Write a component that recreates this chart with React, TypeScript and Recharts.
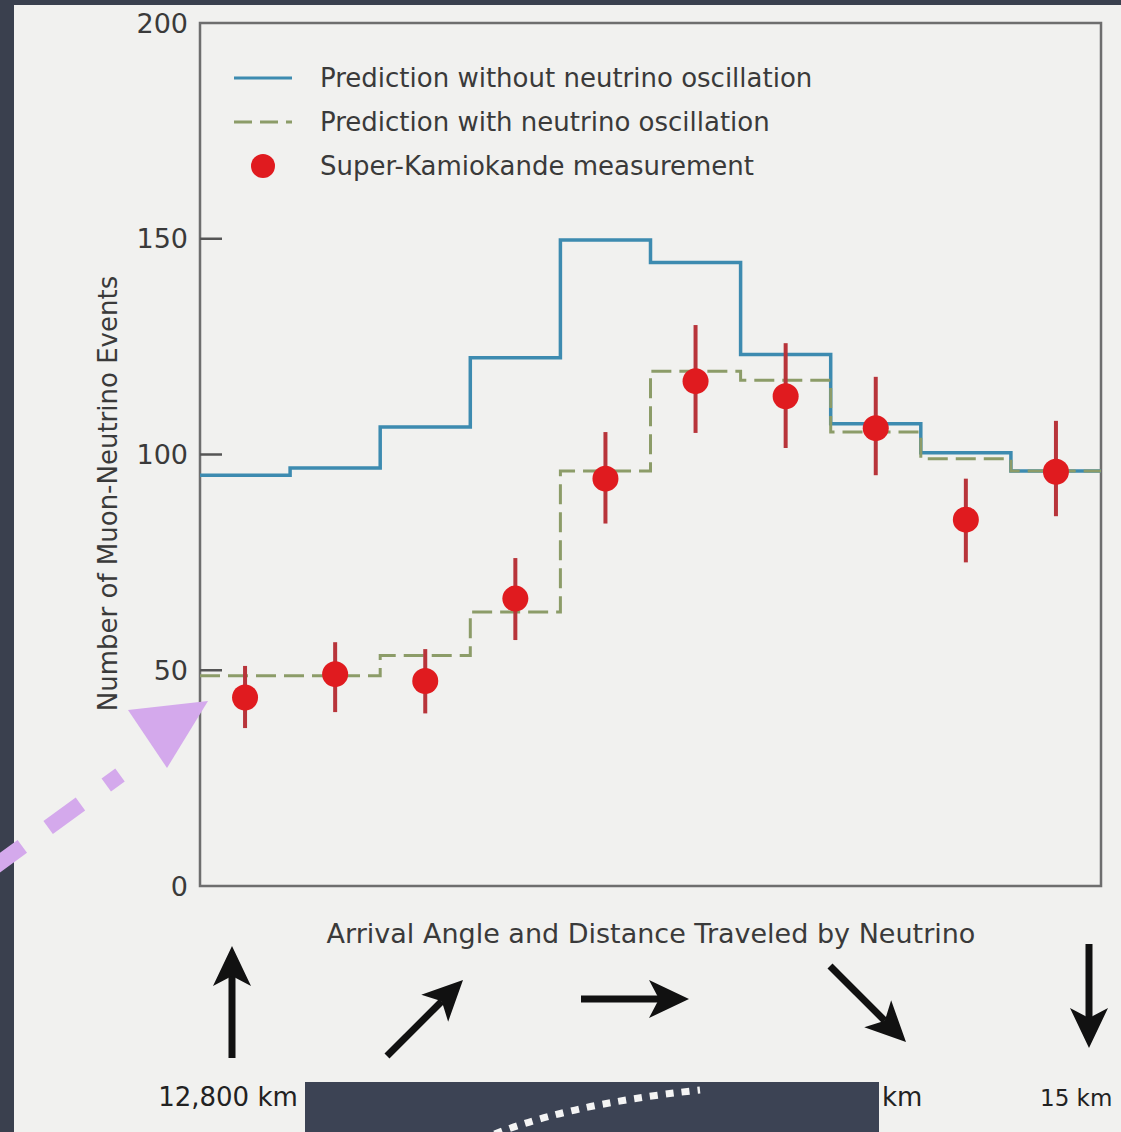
import React from "react";
import { ComposedChart, Line, Scatter, ErrorBar, XAxis, YAxis, ReferenceArea, Legend, Label } from "recharts";

// bin edges along the arrival-angle axis (10 bins)
const binEdges = [0, 1, 2, 3, 4, 5, 6, 7, 8, 9, 10];
const withoutOscillation = [95.2, 96.9, 106.4, 122.4, 149.7, 144.5, 123.2, 107.1, 100.4, 96.2];
const withOscillation = [48.7, 48.7, 53.4, 63.5, 96.2, 119.3, 117.2, 105.2, 99.0, 96.2];
const measured = [43.7, 49.1, 47.5, 66.6, 94.4, 117.0, 113.5, 106.1, 84.9, 96.0];
const errorLow = [7.1, 8.8, 7.5, 9.6, 10.4, 12.0, 12.0, 10.9, 9.9, 10.3];
const errorHigh = [7.3, 7.4, 7.4, 9.4, 10.8, 13.0, 12.3, 11.9, 9.5, 11.8];
const yTicks = [0, 50, 100, 150, 200];
const distanceLabels = ["12,800 km", "km", "15 km"];
const seriesNames = [
  "Prediction without neutrino oscillation",
  "Prediction with neutrino oscillation",
  "Super-Kamiokande measurement",
];

const FONT = '"DejaVu Sans", sans-serif';
const TEXT = "#3a3a3a";
const BLUE = "#3d8bb0";
const GREEN = "#8c9c68";
const RED = "#e01b1f";
const ERR = "#b8343a";

const stepData = (values: number[]) =>
  binEdges.map((x, i) => ({ x, y: values[Math.min(i, values.length - 1)] }));

const pointData = measured.map((y, i) => ({
  x: i + 0.5,
  y,
  err: [errorLow[i], errorHigh[i]],
}));

const TICK_MARGIN = 12;

const YTick = (props: any) => {
  const { x, y, payload } = props;
  const v = payload.value;
  return (
    <g>
      <text x={x} y={y} textAnchor="end" dominantBaseline="central" fill={TEXT} fontSize={27} fontFamily={FONT}>
        {v}
      </text>
      {v > 0 && v < 200 && (
        <line x1={x + TICK_MARGIN} x2={x + TICK_MARGIN + 22} y1={y} y2={y} stroke="#555" strokeWidth={2.5} />
      )}
    </g>
  );
};

const renderLegend = (props: any) => {
  const payload = [...(props.payload || [])].sort(
    (a: any, b: any) => seriesNames.indexOf(a.value) - seriesNames.indexOf(b.value)
  );
  return (
    <div style={{ display: "flex", flexDirection: "column" }}>
      {payload.map((entry: any) => (
        <div key={entry.value} style={{ display: "flex", alignItems: "center", height: 44 }}>
          <svg width={60} height={28} style={{ marginRight: 28 }}>
            {entry.type === "circle" ? (
              <circle cx={31} cy={14} r={12} fill={RED} />
            ) : (
              <line
                x1={2}
                x2={60}
                y1={14}
                y2={14}
                stroke={entry.color}
                strokeWidth={3}
                strokeDasharray={entry.type === "plainline" ? "18 8" : undefined}
              />
            )}
          </svg>
          <span style={{ fontFamily: FONT, fontSize: 26, color: TEXT, whiteSpace: "nowrap" }}>{entry.value}</span>
        </div>
      ))}
    </div>
  );
};

const Arrow = ({ x1, y1, x2, y2 }: { x1: number; y1: number; x2: number; y2: number }) => {
  const a = Math.atan2(y2 - y1, x2 - x1);
  const L = 40;
  const W = 19;
  const bx = x2 - L * Math.cos(a);
  const by = y2 - L * Math.sin(a);
  const px = -Math.sin(a) * W;
  const py = Math.cos(a) * W;
  const nx = x2 - (L - 10) * Math.cos(a);
  const ny = y2 - (L - 10) * Math.sin(a);
  return (
    <g>
      <line x1={x1} y1={y1} x2={nx} y2={ny} stroke="#111" strokeWidth={7} />
      <polygon points={`${x2},${y2} ${bx + px},${by + py} ${nx},${ny} ${bx - px},${by - py}`} fill="#111" />
    </g>
  );
};

export default function App() {
  return (
    <div style={{ position: "absolute", left: 0, top: 0, width: 1121, height: 1132, background: "#3a404e", overflow: "hidden" }}>
      <div style={{ position: "absolute", left: 14, top: 5, right: 0, bottom: 0, background: "#f1f1ef" }} />
      <div style={{ position: "absolute", left: 0, top: 0 }}>
        <ComposedChart width={1121} height={1132} margin={{ top: 23, right: 20, bottom: 246, left: 140 }}>
          <XAxis dataKey="x" type="number" domain={[0, 10]} hide />
          <YAxis
            type="number"
            domain={[0, 200]}
            ticks={yTicks}
            width={60}
            axisLine={false}
            tickLine={false}
            tickSize={0}
            tickMargin={TICK_MARGIN}
            tick={YTick}
          >
            <Label
              content={(p: any) => {
                const vb = p.viewBox || { x: 140, y: 23, height: 863 };
                const cx = 108;
                const cy = vb.y + vb.height / 2 + 39;
                return (
                  <text
                    x={cx}
                    y={cy}
                    transform={`rotate(-90, ${cx}, ${cy})`}
                    textAnchor="middle"
                    dominantBaseline="central"
                    fill={TEXT}
                    fontSize={26}
                    fontFamily={FONT}
                  >
                    Number of Muon-Neutrino Events
                  </text>
                );
              }}
            />
          </YAxis>
          <ReferenceArea x1={0} x2={10} y1={0} y2={200} fill="none" stroke="#6e6e6e" strokeWidth={2.5} ifOverflow="visible" />
          <Line
            name={seriesNames[0]}
            data={stepData(withoutOscillation)}
            dataKey="y"
            type="stepAfter"
            stroke={BLUE}
            strokeWidth={3.5}
            dot={false}
            legendType="line"
            isAnimationActive={false}
          />
          <Line
            name={seriesNames[1]}
            data={stepData(withOscillation)}
            dataKey="y"
            type="stepAfter"
            stroke={GREEN}
            strokeWidth={3}
            strokeDasharray="20 8"
            dot={false}
            legendType="plainline"
            isAnimationActive={false}
          />
          <Scatter
            name={seriesNames[2]}
            data={pointData}
            dataKey="y"
            fill={RED}
            legendType="circle"
            isAnimationActive={false}
            shape={(p: any) => <circle cx={p.cx} cy={p.cy} r={13} fill={RED} />}
          >
            <ErrorBar dataKey="err" direction="y" width={0} stroke={ERR} strokeWidth={4} />
          </Scatter>
          <Legend
            layout="vertical"
            align="center"
            verticalAlign="middle"
            content={renderLegend}
            wrapperStyle={{ top: 56, left: 232, width: "auto", height: "auto" }}
          />
        </ComposedChart>
      </div>
      <svg width={1121} height={1132} style={{ position: "absolute", left: 0, top: 0, pointerEvents: "none" }}>
        <text x={651} y={933} textAnchor="middle" dominantBaseline="central" fill={TEXT} fontSize={27} fontFamily={FONT}>
          Arrival Angle and Distance Traveled by Neutrino
        </text>
        <Arrow x1={232} y1={1058} x2={232} y2={946} />
        <Arrow x1={387} y1={1056} x2={463} y2={980} />
        <Arrow x1={581} y1={999} x2={689} y2={999} />
        <Arrow x1={830} y1={966} x2={906} y2={1042} />
        <Arrow x1={1089} y1={944} x2={1089} y2={1048} />
        <text x={228} y={1106} textAnchor="middle" fill="#222" fontSize={26} fontFamily={FONT}>{distanceLabels[0]}</text>
        <text x={882} y={1106} fill="#222" fontSize={26} fontFamily={FONT}>{distanceLabels[1]}</text>
        <text x={1040} y={1106} fill="#222" fontSize={23} fontFamily={FONT}>{distanceLabels[2]}</text>
        <rect x={305} y={1082} width={574} height={60} fill="#3c4354" />
        <path d="M 480 1140 Q 560 1105 700 1090" fill="none" stroke="#f4f4f4" strokeWidth={7} strokeDasharray="8 8" />
        <line x1={-10} y1={870} x2={120} y2={775} stroke="#d4a9ec" strokeWidth={16} strokeDasharray="40 32" />
        <polygon points="128,710 208,701 167,768" fill="#d4a9ec" />
      </svg>
    </div>
  );
}
